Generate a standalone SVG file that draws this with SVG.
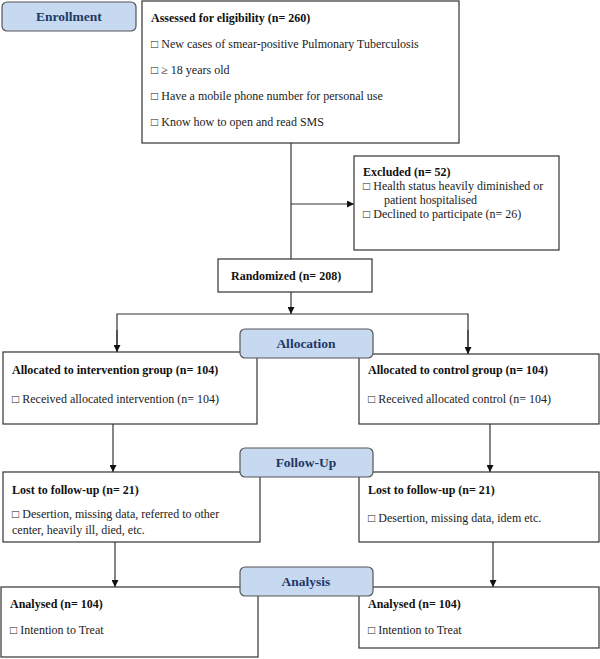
<svg xmlns="http://www.w3.org/2000/svg" width="600" height="659" viewBox="0 0 600 659">
<defs>
<style>
.box{fill:#fff;stroke:#333;stroke-width:1.2}
.lbl{fill:#c6d9f1;stroke:#555;stroke-width:1.2}
.lt{font-family:"Liberation Serif",serif;font-weight:bold;font-size:13.5px;fill:#1f3864;text-anchor:middle}
.b{font-family:"Liberation Serif",serif;font-weight:bold;font-size:12px;fill:#111}
.t{font-family:"Liberation Serif",serif;font-size:12px;fill:#222}
.con{stroke:#333;stroke-width:1.2;fill:none}
</style>
<marker id="ah" viewBox="0 0 10 10" refX="10" refY="5" markerWidth="7" markerHeight="7" markerUnits="userSpaceOnUse" orient="auto">
<path d="M0,0 L10,5 L0,10 z" fill="#111"/>
</marker>
</defs>
<rect width="600" height="659" fill="#fff"/>

<g id="connectors">
<path class="con" d="M291,143 V259"/>
<path class="con" d="M291,204 H354" marker-end="url(#ah)"/>
<path class="con" d="M291,292 V314" marker-end="url(#ah)"/>
<path class="con" d="M117,352 V314 H468 V354" />
<path class="con" d="M117,330 V352" marker-end="url(#ah)"/>
<path class="con" d="M468,330 V354" marker-end="url(#ah)"/>
<path class="con" d="M113,424 V472" marker-end="url(#ah)"/>
<path class="con" d="M490,424 V472" marker-end="url(#ah)"/>
<path class="con" d="M115,542 V587" marker-end="url(#ah)"/>
<path class="con" d="M493,542 V587" marker-end="url(#ah)"/>
</g>

<g id="assessed">
<rect class="box" x="142" y="1" width="317" height="142"/>
<text class="b" x="151" y="22">Assessed for eligibility (n=  260)</text>
<text class="t" x="151" y="48">□ New cases of smear-positive Pulmonary  Tuberculosis</text>
<text class="t" x="151" y="74">□ ≥ 18 years old</text>
<text class="t" x="151" y="100">□ Have a mobile  phone number for personal use</text>
<text class="t" x="151" y="126">□ Know how to open and read SMS</text>
</g>

<g id="excluded">
<rect class="box" x="354" y="156" width="205" height="94"/>
<text class="b" x="363" y="176">Excluded  (n= 52)</text>
<text class="t" x="363" y="190">□  Health status heavily diminished or</text>
<text class="t" x="384" y="204">patient hospitalised</text>
<text class="t" x="363" y="218">□  Declined to participate (n= 26)</text>
</g>

<g id="randomized">
<rect class="box" x="218" y="259" width="154" height="33"/>
<text class="b" x="231" y="280">Randomized  (n= 208)</text>
</g>

<g id="alloc-left">
<rect class="box" x="3" y="352" width="254" height="72"/>
<text class="b" x="12" y="374">Allocated  to  intervention  group (n=  104)</text>
<text class="t" x="12" y="403">□ Received  allocated intervention (n= 104)</text>
</g>

<g id="alloc-right">
<rect class="box" x="359" y="354" width="240" height="70"/>
<text class="b" x="368" y="374">Allocated  to  control group  (n=  104)</text>
<text class="t" x="368" y="403">□ Received allocated control (n= 104)</text>
</g>

<g id="lost-left">
<rect class="box" x="3" y="472" width="257" height="70"/>
<text class="b" x="12" y="494">Lost to follow-up  (n= 21)</text>
<text class="t" x="12" y="518">□ Desertion, missing data, referred to other</text>
<text class="t" x="12" y="534">center, heavily ill,  died, etc.</text>
</g>

<g id="lost-right">
<rect class="box" x="359" y="472" width="240" height="70"/>
<text class="b" x="368" y="494">Lost to follow-up  (n= 21)</text>
<text class="t" x="368" y="522">□ Desertion, missing data, idem  etc.</text>
</g>

<g id="analysed-left">
<rect class="box" x="1" y="587" width="257" height="70"/>
<text class="b" x="10" y="608">Analysed  (n=  104)</text>
<text class="t" x="10" y="634">□ Intention to Treat</text>
</g>

<g id="analysed-right">
<rect class="box" x="359" y="587" width="240" height="61"/>
<text class="b" x="368" y="608">Analysed  (n=  104)</text>
<text class="t" x="368" y="634">□ Intention to Treat</text>
</g>

<g id="enrollment">
<rect class="lbl" x="2" y="2" width="134" height="29" rx="5"/>
<text class="lt" x="69" y="21">Enrollment</text>
</g>
<g id="allocation">
<rect class="lbl" x="240" y="329" width="133" height="29" rx="5"/>
<text class="lt" x="306" y="348">Allocation</text>
</g>
<g id="followup">
<rect class="lbl" x="240" y="448" width="133" height="29" rx="5"/>
<text class="lt" x="306" y="467">Follow-Up</text>
</g>
<g id="analysis">
<rect class="lbl" x="240" y="567" width="133" height="29" rx="5"/>
<text class="lt" x="306" y="586">Analysis</text>
</g>
</svg>
